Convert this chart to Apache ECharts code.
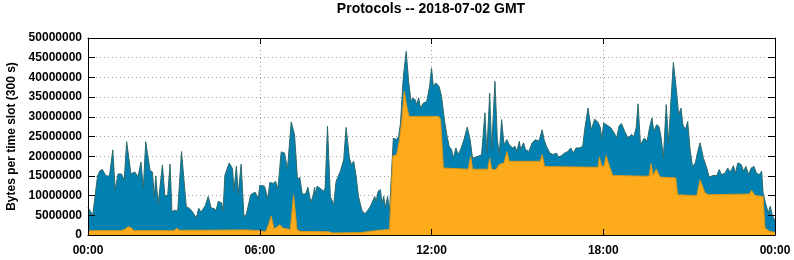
<!DOCTYPE html>
<html>
<head>
<meta charset="utf-8">
<script src="https://cdn.jsdelivr.net/npm/echarts@6/dist/echarts.min.js"></script>
<style>html,body{margin:0;padding:0;background:#fff}#c{width:794px;height:260px}</style>
</head>
<body>
<div id="c"></div>
<script>
// Time of day in minutes (0 = 00:00, 1440 = 24:00), values in millions of bytes per 300 s slot
const totalMinutes = [0,5,10,14,20,25,30,38,45,48,52,57,63,70,76,81,90,98,105,111,116,121,130,135,139,142,147,156,161,167,172,176,182,188,196,206,213,219,222,227,232,237,241,246,252,258,266,268,273,280,283,287,296,303,306,311,315,321,327,332,341,350,357,360,370,374,377,381,389,393,398,405,412,418,426,433,439,444,449,456,461,467,472,475,477,480,486,490,494,497,502,508,515,520,529,536,541,548,552,557,562,567,574,580,585,592,596,601,604,608,613,616,620,623,628,632,640,646,651,655,661,667,672,677,681,686,689,693,697,703,710,716,720,724,729,736,741,747,752,757,762,766,771,776,781,788,795,801,806,809,818,825,832,836,842,846,853,858,862,867,872,878,883,890,895,899,904,907,913,917,924,931,938,945,952,956,961,968,975,982,986,992,999,1006,1012,1017,1023,1030,1037,1041,1048,1055,1062,1069,1074,1077,1081,1090,1096,1103,1108,1113,1118,1125,1132,1139,1144,1149,1153,1158,1166,1172,1177,1182,1186,1192,1197,1201,1206,1212,1217,1222,1227,1234,1238,1243,1247,1252,1257,1262,1267,1273,1278,1283,1290,1297,1302,1310,1318,1323,1328,1335,1341,1346,1353,1357,1362,1369,1374,1379,1385,1390,1396,1401,1407,1412,1415,1420,1426,1430,1434,1440];
const totalValues = [7.0,6.0,5.1,5.0,15.0,16.3,16.6,15.0,15.0,15.5,21.6,11.5,15.5,15.5,14.0,23.7,15.5,16.0,14.8,18.5,11.8,23.7,16.4,16.0,9.7,15.0,7.8,17.8,10.0,10.0,18.0,5.9,6.3,6.0,21.2,7.2,6.7,5.9,6.2,4.3,6.8,5.8,6.0,7.5,9.8,6.9,6.6,6.0,8.5,8.2,6.1,15.2,18.3,16.8,11.2,17.5,10.5,18.0,4.5,5.3,10.2,10.9,9.3,12.6,12.4,12.9,9.2,13.3,13.1,13.7,11.7,21.1,20.8,16.7,28.7,25.4,14.2,14.6,10.4,10.4,12.1,8.3,10.0,12.1,10.2,12.4,11.9,12.4,11.1,11.9,27.6,9.8,7.7,13.6,16.2,19.1,27.3,19.5,17.9,18.7,14.9,9.8,6.3,5.4,6.0,7.3,6.9,9.8,8.5,11.1,11.5,8.1,9.8,6.9,9.8,6.0,24.6,24.2,25.0,28.4,40.3,46.6,39.0,33.9,34.8,34.3,33.1,34.8,32.2,33.5,33.9,37.7,42.4,37.7,38.6,37.7,35.2,29.3,25.5,22.5,21.7,19.5,22.1,20.4,21.7,24.2,27.4,24.2,19.5,20.0,20.0,20.4,31.0,20.8,36.0,21.7,39.0,24.2,20.4,29.3,22.9,24.2,22.9,22.1,22.5,21.2,23.8,21.7,23.4,21.7,21.2,23.4,24.2,23.8,26.7,24.2,22.5,20.8,20.4,20.8,19.8,20.1,20.8,21.2,22.1,20.8,22.1,22.1,22.5,26.7,32.2,26.7,29.4,28.6,27.2,24.4,28.4,27.7,27.2,25.9,24.6,27.6,28.3,26.3,24.6,25.5,25.0,27.2,33.3,22.9,24.6,23.8,27.2,29.7,26.3,28.0,27.5,25.0,19.5,33.1,23.4,34.3,43.8,36.0,30.5,32.2,28.0,26.7,28.8,21.7,17.4,18.3,21.2,23.4,19.5,17.0,14.7,15.1,15.1,16.6,15.3,15.7,17.0,15.9,17.6,15.7,18.3,17.9,16.2,17.4,15.3,17.0,17.4,15.7,15.3,16.2,10.7,8.1,5.6,7.3,5.2,3.5];
const orangeMinutes = [0,10,70,78,84,90,96,180,186,191,240,330,360,372,378,384,390,396,402,408,412,424,431,438,445,505,512,570,590,610,632,639,647,653,658,663,668,673,735,739,745,748,797,802,806,838,842,846,855,862,872,878,883,948,952,957,990,1069,1072,1077,1082,1086,1093,1100,1104,1176,1180,1185,1191,1194,1199,1203,1232,1236,1240,1276,1283,1293,1300,1386,1391,1398,1415,1419,1429,1440];
const orangeValues = [1.0,1.1,1.1,1.5,2.1,1.9,1.1,1.1,1.7,1.2,1.2,1.3,1.1,0.8,2.5,4.8,1.6,2.0,2.6,1.8,1.4,1.4,10.2,1.4,0.9,0.8,0.5,0.6,0.9,1.2,1.4,20.0,20.4,24.2,29.3,36.5,32.7,30.1,30.1,29.3,17.0,16.7,16.7,20.0,16.7,16.7,19.5,16.7,16.6,17.9,18.3,21.2,18.7,18.7,20.4,17.4,17.3,17.2,19.8,17.4,17.6,20.1,17.4,15.1,14.9,14.9,18.1,15.1,16.75,17.0,14.7,14.5,14.5,10.2,10.0,10.0,14.0,10.7,10.2,10.4,11.3,10.0,9.8,1.8,0.9,0.7];
const yTicks = [0,5000000,10000000,15000000,20000000,25000000,30000000,35000000,40000000,45000000,50000000];
const xTickMinutes = [0,360,720,1080,1440];

const SCALE = 1e6;
const totalData = totalMinutes.map((m,i)=>[m, totalValues[i]*SCALE]);
const orangeData = orangeMinutes.map((m,i)=>[m, orangeValues[i]*SCALE]);

const font = 'Liberation Sans, Arial, sans-serif';
const fmtTime = v => { const h = Math.floor(v/60)%24; return (h<10?'0':'')+h+':00'; };
const yMin = yTicks[0], yMax = yTicks[yTicks.length-1], yStep = yTicks[1]-yTicks[0];
const xMin = xTickMinutes[0], xMax = xTickMinutes[xTickMinutes.length-1], xStep = xTickMinutes[1]-xTickMinutes[0];

const chart = echarts.init(document.getElementById('c'), null, {renderer:'canvas'});
const overlayX = (pos) => ({
  type:'value', position:pos, min:xMin, max:xMax, interval:xStep, z:10,
  axisLine:{show:true, onZero:false, lineStyle:{color:'#000', width:1}},
  axisTick:{show:true, inside:true, length:6, lineStyle:{color:'#000', width:1}},
  axisLabel:{show:false}, splitLine:{show:false}
});
const overlayY = (pos) => ({
  type:'value', position:pos, min:yMin, max:yMax, interval:yStep, z:10,
  axisLine:{show:true, onZero:false, lineStyle:{color:'#000', width:1}},
  axisTick:{show:true, inside:true, length:7, lineStyle:{color:'#000', width:1}},
  axisLabel:{show:false}, splitLine:{show:false}
});
chart.setOption({
  animation:false,
  backgroundColor:'#fff',
  title:{
    text:'Protocols -- 2018-07-02 GMT', left:431, top:2, textAlign:'center', padding:0,
    textStyle:{fontFamily:font, fontWeight:'bold', fontSize:14, color:'#000'}
  },
  grid:{left:88, right:19, top:38, bottom:25, show:false, containLabel:false, outerBoundsMode:'none'},
  xAxis:[
    {type:'value', position:'bottom', min:xMin, max:xMax, interval:xStep,
     axisLine:{show:false, onZero:false}, axisTick:{show:false},
     axisLabel:{formatter:fmtTime, margin:10, fontFamily:font, fontWeight:'bold', fontSize:12, color:'#000'},
     splitLine:{show:true, lineStyle:{color:'#a0a0a0', width:1, type:[1,3]}}},
    overlayX('bottom'), overlayX('top')
  ],
  yAxis:[
    {type:'value', position:'left', min:yMin, max:yMax, interval:yStep,
     axisLine:{show:false, onZero:false}, axisTick:{show:false},
     axisLabel:{formatter:v=>String(v), margin:6, fontFamily:font, fontWeight:'bold', fontSize:12, color:'#000'},
     splitLine:{show:true, lineStyle:{color:'#a0a0a0', width:1, type:[1,3]}},
     name:'Bytes per time slot (300 s)', nameLocation:'middle', nameRotate:90, nameGap:70,
     nameTextStyle:{fontFamily:font, fontWeight:'bold', fontSize:12, color:'#000'}},
    overlayY('left'), overlayY('right')
  ],
  series:[
    {type:'line', name:'all', data:totalData, showSymbol:false, symbol:'none', z:2,
     lineStyle:{color:'#2e6a6c', width:1}, areaStyle:{color:'#0081b1', opacity:1, origin:'start'}},
    {type:'line', name:'main', data:orangeData, showSymbol:false, symbol:'none', z:3,
     lineStyle:{color:'#d9961c', width:1}, areaStyle:{color:'#feab1b', opacity:1, origin:'start'}}
  ]
});
</script>
</body>
</html>
